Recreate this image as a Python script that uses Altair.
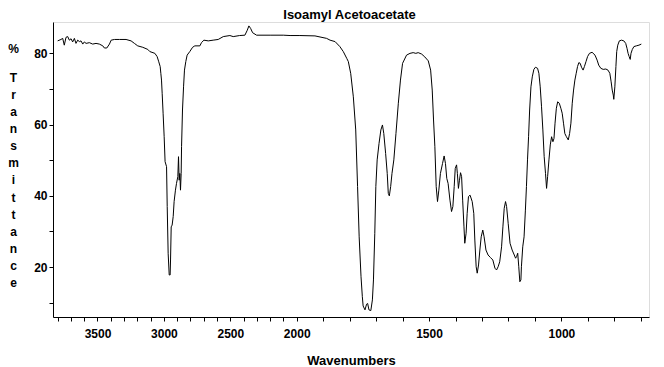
import altair as alt
import pandas as pd

# ---- data ----
wavenumber = [
    3800, 3775, 3762, 3750, 3737, 3724, 3712, 3699, 3687, 3674, 3662, 3649, 3636, 3624, 3611, 3599,
    3586, 3561, 3536, 3511, 3486, 3460, 3448, 3430, 3410, 3397, 3372, 3335, 3285, 3247, 3222, 3197,
    3159, 3121, 3106, 3068, 3051, 3040, 3028, 3023, 3018, 3013, 3006, 2998, 2991, 2980, 2975, 2968,
    2960, 2953, 2950, 2945, 2938, 2930, 2923, 2913, 2905, 2895, 2890, 2885, 2880, 2875, 2870, 2867,
    2860, 2852, 2845, 2835, 2825, 2805, 2784, 2767, 2729, 2717, 2699, 2666, 2629, 2591, 2553, 2503,
    2478, 2430, 2390, 2372, 2360, 2347, 2332, 2302, 2200, 2101, 2050, 1988, 1931, 1887, 1874, 1855,
    1837, 1824, 1811, 1805, 1796, 1786, 1777, 1770, 1764, 1757, 1752, 1749, 1742, 1736, 1732, 1727,
    1720, 1714, 1710, 1705, 1701, 1696, 1689, 1682, 1676, 1671, 1664, 1658, 1654, 1650, 1645, 1640,
    1633, 1625, 1616, 1608, 1600, 1585, 1572, 1560, 1550, 1541, 1528, 1516, 1503, 1494, 1488, 1483,
    1478, 1473, 1468, 1463, 1457, 1449, 1443, 1438, 1433, 1428, 1421, 1415, 1410, 1405, 1401, 1396,
    1393, 1389, 1385, 1381, 1377, 1373, 1368, 1365, 1360, 1356, 1351, 1345, 1337, 1331, 1327, 1322,
    1318, 1313, 1308, 1303, 1297, 1292, 1285, 1277, 1268, 1259, 1251, 1245, 1239, 1233, 1226, 1221,
    1216, 1211, 1207, 1201, 1194, 1186, 1178, 1173, 1169, 1165, 1161, 1157, 1153, 1151, 1146, 1141,
    1136, 1132, 1128, 1124, 1120, 1115, 1110, 1104, 1098, 1090, 1085, 1080, 1075, 1070, 1065, 1060,
    1056, 1052, 1047, 1042, 1037, 1032, 1028, 1024, 1019, 1014, 1008, 1002, 997, 992, 987, 981,
    974, 969, 964, 959, 954, 949, 944, 939, 934, 929, 924, 918, 913, 907, 901, 894,
    884, 873, 865, 859, 851, 842, 832, 824, 817, 812, 808, 804, 802, 798, 794, 791,
    787, 781, 773, 764, 757, 752, 748, 744, 740, 737, 732, 726, 717, 707, 698,
]
transmittance = [
    83.5, 83.9, 84.2, 82.3, 84.5, 84.7, 83.7, 84.1, 83.2, 84.2, 82.8, 83.7, 83.3, 83.5, 82.6, 83.2,
    82.8, 83.0, 82.6, 82.8, 82.6, 82.1, 81.5, 81.5, 82.6, 83.7, 83.9, 83.9, 83.9, 83.5, 82.8, 82.1,
    81.7, 81.1, 80.5, 80.0, 79.1, 77.8, 76.3, 74.4, 72.5, 68.8, 63.2, 56.6, 49.6, 48.2, 37.0, 23.9,
    17.8, 17.8, 22.0, 31.3, 31.8, 34.2, 38.4, 41.6, 43.5, 45.4, 51.0, 44.4, 46.3, 41.6, 46.3, 53.8,
    64.1, 70.6, 75.3, 77.7, 79.5, 80.5, 81.7, 82.1, 82.1, 83.0, 83.7, 83.5, 83.7, 83.9, 84.7, 85.0,
    84.7, 85.0, 85.1, 86.5, 87.7, 87.0, 85.8, 85.1, 85.1, 85.1, 85.0, 85.0, 84.9, 84.2, 83.7, 83.3,
    81.9, 80.5, 78.6, 77.7, 74.4, 67.8, 58.5, 42.6, 28.5, 17.3, 11.7, 9.1, 8.0, 9.6, 9.8, 8.0,
    7.8, 10.8, 16.4, 29.5, 42.6, 50.1, 54.7, 58.5, 59.9, 57.5, 51.9, 46.3, 40.7, 40.0, 42.6, 46.3,
    50.1, 57.5, 66.0, 72.5, 77.2, 79.5, 80.0, 80.2, 80.0, 80.2, 79.8, 79.0, 77.9, 75.3, 69.7, 61.3,
    53.8, 42.6, 38.4, 41.6, 46.3, 49.1, 51.2, 49.1, 44.9, 43.5, 38.8, 35.6, 37.0, 42.6, 47.7, 48.7,
    46.3, 42.1, 44.4, 46.5, 45.4, 38.8, 31.3, 26.7, 29.5, 35.1, 39.8, 40.2, 38.4, 35.1, 27.6, 20.1,
    18.3, 20.6, 24.8, 28.5, 30.4, 28.5, 24.8, 23.4, 22.7, 22.0, 19.7, 19.2, 20.1, 21.5, 25.7, 31.3,
    36.5, 38.4, 37.0, 32.3, 26.7, 24.8, 23.4, 22.5, 23.0, 23.9, 20.1, 15.9, 16.4, 20.1, 25.7, 28.5,
    36.0, 42.6, 50.1, 56.6, 64.1, 70.6, 73.4, 75.5, 76.1, 75.8, 74.4, 70.6, 65.0, 58.5, 51.0, 46.3,
    42.1, 45.4, 50.1, 54.3, 56.6, 55.2, 56.1, 60.4, 64.6, 66.4, 66.0, 64.6, 63.2, 60.4, 57.5, 56.6,
    55.7, 57.5, 60.4, 66.0, 69.7, 72.5, 74.4, 76.3, 77.4, 77.2, 76.1, 75.3, 76.3, 77.7, 79.1, 80.0,
    80.3, 79.5, 78.1, 76.7, 75.8, 75.5, 75.6, 75.3, 74.4, 72.0, 69.7, 68.3, 67.1, 70.6, 76.3, 80.5,
    82.3, 83.5, 83.7, 83.5, 82.8, 81.4, 80.0, 79.1, 78.3, 80.0, 81.1, 81.9, 82.1, 82.3, 82.6,
]

x_tick_values = list(range(700, 3900, 100))
x_label_values = [3500, 3000, 2500, 2000, 1500, 1000]
y_tick_values = [10, 20, 30, 40, 50, 60, 70, 80]
y_label_values = [20, 40, 60, 80]

chart_title = "Isoamyl Acetoacetate"
x_title = "Wavenumbers"
y_unit = "%"
y_title_lines = ["T", "r", "a", "n", "s", "m", "i", "t", "t", "a", "n", "c", "e"]

FONT = "Liberation Sans"

df = pd.DataFrame({"wn": wavenumber, "t": transmittance})

x_label_test = " || ".join(f"datum.value === {v}" for v in x_label_values)
y_label_test = " || ".join(f"datum.value === {v}" for v in y_label_values)


def x_scale():
    return alt.Scale(domain=[3835, 2000, 669], range=[0, 243.7, 596], nice=False, zero=False)


def y_scale():
    return alt.Scale(domain=[6, 88.8], nice=False, zero=False)


common_title = dict(titleFont=FONT, titleFontWeight="bold", titleColor="black")

spectrum = (
    alt.Chart(df)
    .mark_line(color="black", strokeWidth=1, interpolate="linear")
    .encode(
        x=alt.X(
            "wn:Q",
            scale=x_scale(),
            axis=alt.Axis(
                orient="bottom",
                values=x_tick_values,
                format="d",
                labelExpr=f"({x_label_test}) ? datum.label : ''",
                title=x_title,
                grid=False,
                tickSize=4,
                labelPadding=7,
                labelOverlap=False,
                labelFlush=False,
                labelFont=FONT,
                labelFontSize=12,
                labelFontWeight="bold",
                labelColor="black",
                titleFontSize=13,
                titlePadding=15,
                domainColor="black",
                tickColor="black",
                **common_title,
            ),
        ),
        y=alt.Y(
            "t:Q",
            scale=y_scale(),
            axis=alt.Axis(
                orient="left",
                values=y_tick_values,
                labelExpr=f"({y_label_test}) ? datum.label : ''",
                title=y_title_lines,
                grid=False,
                tickSize=4,
                labelPadding=2,
                labelOverlap=False,
                labelFlush=False,
                labelFont=FONT,
                labelFontSize=12,
                labelFontWeight="bold",
                labelColor="black",
                titleFontSize=12,
                titleAngle=0,
                titleAlign="center",
                titleBaseline="top",
                titleLineHeight=17.15,
                titleX=-40,
                titleY=50,
                domainColor="black",
                tickColor="black",
                **common_title,
            ),
        ),
    )
)

# companion layer (invisible) carrying the chart title on a top axis and the "%" unit on a left axis
titles = (
    alt.Chart(df)
    .mark_line(opacity=0)
    .encode(
        x=alt.X(
            "wn:Q",
            scale=x_scale(),
            axis=alt.Axis(
                orient="top",
                labels=False,
                ticks=False,
                domain=False,
                grid=False,
                title=chart_title,
                titleFontSize=13,
                titleAlign="center",
                titleBaseline="alphabetic",
                titleX=296,
                titleY=-4,
                **common_title,
            ),
        ),
        y=alt.Y(
            "t:Q",
            scale=y_scale(),
            axis=alt.Axis(
                orient="left",
                labels=False,
                ticks=False,
                domain=False,
                grid=False,
                title=y_unit,
                titleFontSize=12,
                titleAngle=0,
                titleAlign="center",
                titleBaseline="top",
                titleX=-40,
                titleY=21,
                **common_title,
            ),
        ),
    )
)

chart = (
    alt.layer(spectrum, titles)
    .resolve_axis(x="independent", y="independent")
    .properties(
        width=596,
        height=295,
        autosize=alt.AutoSizeParams(type="none"),
        padding={"left": 45, "top": 14, "right": 7, "bottom": 50},
    )
    .configure_view(stroke="black", strokeWidth=1)
    .configure(background="white")
)

chart.save("out.html", embed_options={"renderer": "svg", "actions": False})
